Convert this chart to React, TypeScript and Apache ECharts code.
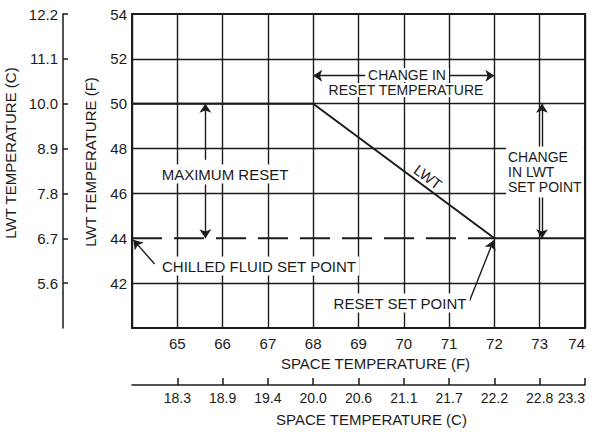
import React, { useEffect, useRef } from "react";
import * as echarts from "echarts";

// ---- data ----
const spaceTempF = [64, 65, 66, 67, 68, 69, 70, 71, 72, 73, 74];
const spaceTempCLabels = ["18.3", "18.9", "19.4", "20.0", "20.6", "21.1", "21.7", "22.2", "22.8", "23.3"];
const spaceTempCTickF = [65, 66, 67, 68, 69, 70, 71, 72, 73, 74];

const lwtTickF = [42, 44, 46, 48, 50, 52, 54];
const lwtCLabels = ["5.6", "6.7", "7.8", "8.9", "10.0", "11.1", "12.2"];

// LWT reset curve (space temp F, LWT F)
const lwtX = [64, 68, 72, 74];
const lwtY = [50, 50, 44, 44];

// chilled fluid set point (dashed)
const setPointX = [64, 72];
const setPointY = [44, 44];

// horizontal grid lines (44 is drawn by the set point line)
const hGridValues = [42, 46, 48, 50, 52];

// annotation arrows: [x, y] in data units, from -> to
const arrowFrom = [
  [65.62, 47.5],
  [65.62, 46.4],
  [64.5, 42.85],
  [69.2, 51.25],
  [71.0, 51.25],
  [73.05, 48.0],
  [73.05, 45.9],
  [71.45, 41.2],
];
const arrowTo = [
  [65.62, 50],
  [65.62, 44],
  [64.03, 43.93],
  [68.0, 51.25],
  [72.0, 51.25],
  [73.05, 50],
  [73.05, 44],
  [71.98, 43.9],
];

const INK = "#1b1b1b";
const FONT = "'Liberation Sans', Arial, sans-serif";

export default function App() {
  const ref = useRef<HTMLDivElement>(null);

  useEffect(() => {
    if (!ref.current) return;
    const chart = echarts.init(ref.current, undefined, { renderer: "svg" });

    const txt = (
      text: string,
      x: number,
      y: number,
      size: number,
      extra: any = {},
      styleExtra: any = {}
    ) => ({
      type: "text",
      x,
      y,
      z: 50,
      silent: true,
      ...extra,
      style: {
        text,
        fill: INK,
        fontSize: size,
        fontFamily: FONT,
        align: "center",
        verticalAlign: "middle",
        backgroundColor: "#fff",
        padding: [2, 3],
        ...styleExtra,
      },
    });

    const option: any = {
      animation: false,
      backgroundColor: "#fff",
      grid: {
        left: 132,
        right: 6,
        top: 14,
        bottom: 104,
        show: true,
        borderColor: INK,
        borderWidth: 2,
        containLabel: false,
        outerBoundsMode: "none",
      },
      xAxis: [
        {
          type: "value",
          min: spaceTempF[0],
          max: spaceTempF[spaceTempF.length - 1],
          interval: 1,
          position: "bottom",
          axisLine: { show: false },
          axisTick: { show: false },
          splitLine: { show: true, lineStyle: { color: INK, width: 1.4 } },
          axisLabel: {
            formatter: (v: number) => (v === spaceTempF[0] ? "" : String(v)),
            fontSize: 15,
            color: INK,
            fontFamily: FONT,
            margin: 8,
            showMinLabel: true,
            showMaxLabel: true,
            alignMaxLabel: "right",
          },
          name: "SPACE TEMPERATURE (F)",
          nameLocation: "middle",
          nameGap: 27,
          nameTextStyle: { fontSize: 15, color: INK, fontFamily: FONT, padding: [0, 0, 0, 34] },
        },
        {
          type: "value",
          min: spaceTempF[0],
          max: spaceTempF[spaceTempF.length - 1],
          interval: 1,
          position: "bottom",
          offset: 57,
          axisLine: { show: true, lineStyle: { color: INK, width: 1.5 } },
          axisTick: {
            show: true,
            inside: true,
            length: 7,
            customValues: spaceTempCTickF,
            lineStyle: { color: INK, width: 1.5 },
          },
          splitLine: { show: false },
          axisLabel: {
            customValues: spaceTempCTickF,
            formatter: (v: number) => {
              const i = spaceTempCTickF.indexOf(Math.round(v));
              return i >= 0 ? spaceTempCLabels[i] : "";
            },
            fontSize: 14,
            color: INK,
            fontFamily: FONT,
            margin: 6,
            showMinLabel: true,
            showMaxLabel: true,
            alignMaxLabel: "right",
          },
          name: "SPACE TEMPERATURE (C)",
          nameLocation: "middle",
          nameGap: 27,
          nameTextStyle: { fontSize: 15, color: INK, fontFamily: FONT, padding: [0, 0, 0, 26] },
        },
      ],
      yAxis: [
        {
          type: "value",
          min: 40,
          max: 54,
          interval: 2,
          position: "left",
          axisLine: { show: false },
          axisTick: { show: false },
          splitLine: { show: false },
          axisLabel: {
            formatter: (v: number) => (v === 40 ? "" : String(v)),
            fontSize: 15,
            color: INK,
            fontFamily: FONT,
            margin: 5,
          },
          name: "LWT TEMPERATURE (F)",
          nameLocation: "middle",
          nameRotate: 90,
          nameGap: 34,
          nameTextStyle: { fontSize: 15, color: INK, fontFamily: FONT, padding: [0, 0, 0, 18] },
        },
        {
          type: "value",
          min: 40,
          max: 54,
          interval: 2,
          position: "left",
          offset: 69,
          axisLine: { show: true, lineStyle: { color: INK, width: 1.5 } },
          axisTick: {
            show: true,
            inside: true,
            length: 5,
            customValues: lwtTickF,
            lineStyle: { color: INK, width: 1.5 },
          },
          splitLine: { show: false },
          axisLabel: {
            customValues: lwtTickF,
            formatter: (v: number) => {
              const i = lwtTickF.indexOf(Math.round(v));
              return i >= 0 ? lwtCLabels[i] : "";
            },
            fontSize: 15,
            color: INK,
            fontFamily: FONT,
            margin: 5,
          },
          name: "LWT TEMPERATURE (C)",
          nameLocation: "middle",
          nameRotate: 90,
          nameGap: 40,
          nameTextStyle: { fontSize: 15, color: INK, fontFamily: FONT, padding: [0, 0, 0, 36] },
        },
      ],
      series: [
        {
          name: "grid",
          type: "line",
          data: [],
          xAxisIndex: 0,
          yAxisIndex: 0,
          silent: true,
          z: 1,
          markLine: {
            silent: true,
            symbol: ["none", "none"],
            label: { show: false },
            lineStyle: { color: INK, width: 1.4, type: "solid" },
            data: hGridValues.map((v) => ({ yAxis: v })),
          },
        },
        {
          name: "Chilled fluid set point",
          type: "line",
          xAxisIndex: 0,
          yAxisIndex: 0,
          symbol: "none",
          data: setPointX.map((x, i) => [x, setPointY[i]]),
          lineStyle: { color: INK, width: 2, type: [30, 12] },
          z: 3,
        },
        {
          name: "LWT",
          type: "line",
          xAxisIndex: 0,
          yAxisIndex: 0,
          symbol: "none",
          data: lwtX.map((x, i) => [x, lwtY[i]]),
          lineStyle: { color: INK, width: 2 },
          z: 3,
          markLine: {
            silent: true,
            symbol: ["none", "arrow"],
            symbolSize: 9,
            label: { show: false },
            lineStyle: { color: INK, width: 1.4, type: "solid" },
            data: arrowFrom.map((f, i) => [{ coord: f }, { coord: arrowTo[i] }]),
          },
        },
      ],
      graphic: [
        txt("MAXIMUM RESET", 225, 174, 15),
        txt("CHILLED FLUID SET POINT", 259, 266, 15),
        txt("CHANGE IN", 407, 75, 14, {}, { padding: [0, 3] }),
        txt("RESET TEMPERATURE", 406, 90, 14, {}, { padding: [0, 3] }),
        txt("CHANGE\nIN LWT\nSET POINT", 506, 172, 14, {}, { align: "left", lineHeight: 15, padding: [3, 2] }),
        txt("RESET SET POINT", 400, 303, 15),
        txt("LWT", 428, 177, 15, { rotation: -0.639 }, { backgroundColor: "transparent", padding: 0 }),
      ],
    };

    chart.setOption(option);
    return () => chart.dispose();
  }, []);

  return (
    <div
      ref={ref}
      style={{ position: "absolute", left: 0, top: 0, width: 591, height: 432 }}
    />
  );
}
